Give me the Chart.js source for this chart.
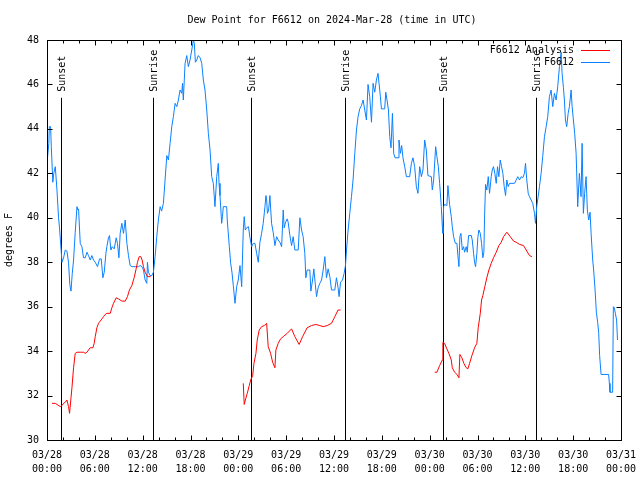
<!DOCTYPE html>
<html>
<head>
<meta charset="utf-8">
<script src="https://cdn.jsdelivr.net/npm/chart.js@4.4.1/dist/chart.umd.min.js"></script>
<style>
  html, body { margin: 0; padding: 0; background: #fff; }
  #wrap { width: 640px; height: 480px; }
</style>
</head>
<body>
<div id="wrap"><canvas id="chart" width="640" height="480"></canvas></div>
<script>
(function () {
  // hours since 03/28 00:00 UTC, dew point in degrees F
  var obsSeries = [
    [0.00,42.45],[0.23,43.35],[0.29,44.1],[0.45,44.1],[0.54,43.2],[0.73,41.6],[0.85,42.0],[1.04,42.3],[1.25,41.25],[1.45,40.0],
    [1.58,39.5],[1.88,38.0],[2.08,38.2],[2.29,38.55],[2.50,38.5],[2.70,38.0],[2.86,37.0],[3.01,36.7],[3.17,37.5],[3.33,38.1],
    [3.54,39.35],[3.76,40.5],[3.88,40.35],[3.96,40.4],[4.17,38.85],[4.38,38.7],[4.58,38.2],[4.80,38.2],[5.01,38.45],[5.21,38.3],
    [5.42,38.1],[5.63,38.3],[5.84,38.1],[6.05,38.0],[6.34,37.8],[6.59,38.15],[6.80,38.15],[7.01,37.3],[7.18,37.55],[7.39,38.4],
    [7.51,38.7],[7.71,39.1],[7.84,39.2],[8.01,38.55],[8.18,38.7],[8.43,38.6],[8.68,39.1],[8.84,38.85],[9.02,38.2],[9.18,39.3],
    [9.39,39.75],[9.59,39.3],[9.81,39.9],[10.02,38.85],[10.22,38.3],[10.43,37.85],[10.68,37.8],[11.06,37.8],[11.47,37.8],[11.68,37.85],
    [11.90,37.8],[12.10,37.65],[12.31,37.2],[12.52,37.05],[12.60,38.0],[12.72,37.55],[12.94,37.4],[13.15,37.4],[13.35,37.55],[13.56,38.25],
    [13.77,39.15],[13.97,39.9],[14.19,40.5],[14.38,40.3],[14.60,40.65],[14.81,41.7],[15.03,42.8],[15.23,42.6],[15.44,43.35],[15.65,44.1],
    [15.85,44.55],[16.07,45.15],[16.28,45.0],[16.48,45.3],[16.69,45.75],[16.90,45.6],[17.00,46.05],[17.10,45.3],[17.32,46.95],[17.53,47.3],
    [17.73,46.8],[17.94,47.1],[18.16,47.55],[18.36,48.0],[18.48,47.85],[18.61,47.0],[18.78,47.1],[18.98,47.3],[19.20,47.2],[19.41,46.95],
    [19.61,46.2],[19.82,45.75],[20.04,44.85],[20.24,43.8],[20.45,43.05],[20.66,41.85],[20.86,41.55],[21.07,40.5],[21.29,41.85],[21.49,42.45],
    [21.58,41.55],[21.70,41.0],[21.91,39.75],[22.01,40.05],[22.11,40.5],[22.54,40.5],[22.61,39.9],[22.87,38.7],[23.04,37.95],[23.20,37.55],
    [23.37,36.95],[23.58,36.15],[23.79,36.9],[23.99,37.2],[24.21,37.85],[24.42,36.9],[24.62,39.45],[24.74,40.05],[24.87,39.45],[25.04,39.55],
    [25.27,39.6],[25.46,39.1],[25.67,38.7],[25.87,38.85],[26.08,38.85],[26.30,38.4],[26.50,38.0],[26.71,38.9],[26.92,39.3],[27.12,39.75],
    [27.34,40.5],[27.46,41.0],[27.55,40.8],[27.65,40.2],[27.80,40.35],[27.96,41.0],[28.17,39.75],[28.37,39.35],[28.59,38.75],[28.80,39.15],
    [29.00,39.0],[29.21,38.9],[29.43,38.7],[29.63,40.35],[29.75,39.55],[29.93,39.8],[30.13,39.95],[30.25,39.8],[30.47,39.2],[30.68,38.75],
    [30.88,39.15],[31.09,38.55],[31.51,38.55],[31.72,40.0],[31.93,39.45],[32.13,39.15],[32.34,38.4],[32.47,37.3],[32.63,37.65],[32.97,37.65],
    [33.10,36.7],[33.31,37.2],[33.47,37.7],[33.63,37.1],[33.81,36.45],[34.01,36.85],[34.22,37.05],[34.44,37.2],[34.64,37.65],[34.85,38.25],
    [35.06,37.3],[35.26,37.7],[35.48,37.35],[35.69,36.75],[36.10,36.75],[36.31,37.3],[36.51,36.85],[36.64,36.45],[36.82,37.1],[37.07,37.2],
    [37.27,37.5],[37.44,37.85],[37.57,38.55],[37.77,39.45],[37.98,40.2],[38.19,40.95],[38.39,41.7],[38.61,42.9],[38.82,43.95],[39.02,44.55],
    [39.23,44.9],[39.44,45.05],[39.65,45.3],[39.86,44.85],[40.07,44.4],[40.27,46.0],[40.48,45.45],[40.70,44.3],[40.90,46.05],[41.11,45.65],
    [41.32,46.2],[41.52,46.5],[41.65,46.05],[41.82,45.45],[41.95,44.9],[42.36,44.9],[42.49,45.65],[42.65,45.3],[42.83,44.85],[42.99,43.65],
    [43.15,43.15],[43.33,44.7],[43.49,42.9],[43.65,42.7],[44.03,42.7],[44.15,43.5],[44.33,42.9],[44.49,43.25],[44.65,42.7],[44.87,42.3],
    [45.08,41.85],[45.49,41.85],[45.71,42.45],[45.91,42.7],[46.12,42.3],[46.33,41.4],[46.53,41.1],[46.75,42.3],[46.96,41.85],[47.16,42.15],
    [47.37,43.5],[47.58,43.05],[47.78,41.9],[48.21,41.85],[48.33,41.25],[48.50,41.7],[48.75,43.2],[48.91,42.75],[49.09,42.3],[49.25,41.55],
    [49.46,40.5],[49.59,39.6],[49.66,39.3],[49.75,40.5],[49.87,40.6],[50.16,40.55],[50.29,41.45],[50.50,40.6],[50.71,40.05],[50.84,39.6],
    [51.00,39.15],[51.22,38.85],[51.42,38.85],[51.54,38.3],[51.67,37.8],[51.79,39.15],[51.92,39.3],[52.09,38.55],[52.26,38.7],[52.38,38.45],
    [52.59,38.7],[52.72,38.45],[52.88,39.2],[53.22,39.2],[53.34,39.0],[53.51,38.4],[53.63,38.0],[53.76,37.8],[53.92,38.4],[54.04,39.1],
    [54.17,39.45],[54.35,39.3],[54.51,38.85],[54.67,38.2],[54.80,38.45],[54.88,39.95],[55.01,41.5],[55.17,41.25],[55.35,41.85],[55.51,41.1],
    [55.72,41.85],[55.85,42.15],[56.01,42.3],[56.17,42.0],[56.35,41.55],[56.51,42.3],[56.68,41.85],[56.85,42.6],[57.02,42.3],[57.18,42.0],
    [57.35,41.4],[57.52,41.0],[57.68,41.7],[57.85,41.4],[58.02,41.55],[58.64,41.55],[58.85,41.7],[59.05,41.85],[59.27,41.7],[59.48,41.85],
    [59.68,41.8],[59.89,42.0],[60.02,42.45],[60.18,41.7],[60.36,41.1],[60.52,40.95],[60.73,40.8],[60.93,40.65],[61.15,40.2],[61.27,39.75],
    [61.43,40.5],[61.61,40.95],[61.77,41.4],[61.98,42.0],[62.18,42.75],[62.40,43.65],[62.61,44.1],[62.81,44.55],[63.02,45.45],[63.23,45.75],
    [63.44,45.0],[63.65,45.6],[63.86,45.3],[64.06,45.9],[64.28,46.8],[64.49,47.45],[64.61,46.5],[64.78,45.85],[64.90,45.3],[65.03,44.4],
    [65.19,44.1],[65.37,44.7],[65.53,45.0],[65.74,45.75],[65.87,45.0],[66.03,44.4],[66.19,43.8],[66.37,42.9],[66.57,40.5],[66.78,42.0],
    [66.99,40.95],[67.12,43.35],[67.28,40.2],[67.44,41.1],[67.62,41.85],[67.78,40.35],[67.95,39.9],[68.12,40.25],[68.25,39.3],[68.45,38.1],
    [68.57,37.65],[68.75,36.75],[68.91,35.75],[69.07,35.3],[69.20,34.85],[69.32,33.8],[69.50,32.95],[70.45,32.95],[70.54,32.55],[70.62,32.15],
    [70.95,32.15],[71.04,36.0],[71.16,35.95],[71.29,35.7],[71.45,35.4],[71.56,34.5]
  ];

  // analysis series, null = gap
  var analysisSeries = [
    [0.63,31.65],[1.04,31.65],[1.25,31.6],[1.67,31.5],[1.88,31.55],[2.08,31.65],[2.29,31.7],[2.50,31.8],[2.70,31.5],[2.83,31.2],
    [3.01,31.9],[3.13,32.35],[3.33,33.25],[3.54,33.9],[3.79,33.95],[4.17,33.95],[4.58,33.95],[4.80,33.9],[5.01,33.95],[5.21,34.05],
    [5.42,34.15],[5.76,34.15],[5.92,34.35],[6.05,34.65],[6.26,35.05],[6.46,35.25],[6.67,35.35],[6.89,35.45],[7.09,35.55],[7.30,35.65],
    [7.51,35.7],[7.93,35.7],[8.14,35.95],[8.34,36.15],[8.68,36.4],[8.97,36.35],[9.39,36.25],[9.81,36.25],[10.09,36.45],[10.34,36.75],
    [10.64,36.95],[10.93,37.3],[11.18,37.7],[11.35,38.0],[11.56,38.25],[11.77,38.25],[11.93,38.1],[12.10,37.8],[12.31,37.55],[12.60,37.35],
    [13.00,37.35],
    [18.0,null],
    [24.62,32.55],[24.74,31.6],[24.92,31.85],[25.12,32.1],[25.37,32.45],[25.55,32.7],[25.80,32.9],[25.96,33.45],[26.21,33.9],[26.37,34.5],
    [26.62,34.95],[26.92,35.1],[27.25,35.15],[27.55,35.25],[27.75,34.2],[28.05,33.9],[28.30,33.5],[28.59,33.25],[28.71,34.05],[29.00,34.35],
    [29.30,34.55],[29.63,34.65],[30.13,34.8],[30.68,35.0],[31.09,34.65],[31.63,34.3],[32.06,34.65],[32.63,35.05],[33.18,35.15],[33.72,35.2],
    [34.22,35.15],[34.64,35.1],[35.14,35.15],[35.69,35.25],[36.10,35.55],[36.51,35.85],[36.82,35.85],
    [42.0,null],
    [48.63,33.05],[48.91,33.05],[49.25,33.35],[49.59,33.6],[49.66,34.4],[49.87,34.35],[50.16,34.1],[50.41,33.9],[50.71,33.6],[50.84,33.25],
    [51.13,33.05],[51.42,32.95],[51.67,32.8],[51.79,33.85],[52.04,33.7],[52.29,33.45],[52.59,33.25],[52.79,33.2],[53.01,33.45],[53.30,33.8],
    [53.63,34.15],[53.92,34.35],[54.09,35.05],[54.35,35.7],[54.51,36.3],[54.67,36.5],[54.92,36.9],[55.17,37.3],[55.43,37.65],[55.72,37.95],
    [56.01,38.2],[56.35,38.45],[56.68,38.75],[56.98,38.9],[57.27,39.15],[57.68,39.35],[58.11,39.15],[58.52,38.95],[58.85,38.9],[59.27,38.8],
    [59.77,38.75],[60.11,38.55],[60.52,38.3],[60.81,38.25]
  ];

  var sunHours = [1.75, 13.35, 25.62, 37.39, 49.66, 61.31];
  var sunLabels = ['Sunset', 'Sunrise', 'Sunset', 'Sunrise', 'Sunset', 'Sunrise'];
  var sunLineTop = 45.4;

  var xTickLabels = [
    ['03/28', '00:00'], ['03/28', '06:00'], ['03/28', '12:00'], ['03/28', '18:00'],
    ['03/29', '00:00'], ['03/29', '06:00'], ['03/29', '12:00'], ['03/29', '18:00'],
    ['03/30', '00:00'], ['03/30', '06:00'], ['03/30', '12:00'], ['03/30', '18:00'],
    ['03/31', '00:00']
  ];

  var seriesNames = ['F6612 Analysis', 'F6612'];
  var seriesColors = ['#ff0000', '#0a80ff'];
  var titleText = 'Dew Point for F6612 on 2024-Mar-28 (time in UTC)';
  var yTitle = 'degrees F';

  var FONT = '10px "DejaVu Sans Mono", monospace';

  function toXY(arr) {
    return arr.map(function (p) {
      return { x: p[0], y: p[1] };
    });
  }

  var decor = {
    id: 'gnuplotDecor',
    beforeDatasetsDraw: function (chart) {
      var ctx = chart.ctx;
      var xs = chart.scales.x;
      var ys = chart.scales.y;
      ctx.save();
      ctx.strokeStyle = '#000';
      ctx.fillStyle = '#000';
      ctx.lineWidth = 1;
      ctx.font = FONT;
      sunHours.forEach(function (h, i) {
        var px = Math.round(xs.getPixelForValue(h)) + 0.5;
        var top = ys.getPixelForValue(sunLineTop);
        ctx.beginPath();
        ctx.moveTo(px, top);
        ctx.lineTo(px, ys.getPixelForValue(30));
        ctx.stroke();
        ctx.save();
        ctx.translate(px + 1, top - 6);
        ctx.rotate(-Math.PI / 2);
        ctx.textAlign = 'left';
        ctx.textBaseline = 'middle';
        ctx.fillText(sunLabels[i], 0, 0);
        ctx.restore();
      });
      ctx.restore();
    },
    afterDatasetsDraw: function (chart) {
      var ctx = chart.ctx;
      var a = chart.chartArea;
      var xs = chart.scales.x;
      var ys = chart.scales.y;
      ctx.save();
      ctx.strokeStyle = '#000';
      ctx.lineWidth = 1;
      var L = Math.round(a.left) + 0.5, R = Math.round(a.right) + 0.5;
      var T = Math.round(a.top) + 0.5, B = Math.round(a.bottom) + 0.5;
      ctx.strokeRect(L, T, R - L, B - T);
      ctx.beginPath();
      for (var h = xs.min; h <= xs.max; h += 2) {
        var px = Math.round(xs.getPixelForValue(h)) + 0.5;
        var len = h % 6 === 0 ? 5 : 3;
        ctx.moveTo(px, B);
        ctx.lineTo(px, B - len);
        ctx.moveTo(px, T);
        ctx.lineTo(px, T + len);
      }
      for (var v = ys.min; v <= ys.max; v += 2) {
        var py = Math.round(ys.getPixelForValue(v)) + 0.5;
        ctx.moveTo(L, py);
        ctx.lineTo(L + 5, py);
        ctx.moveTo(R, py);
        ctx.lineTo(R - 5, py);
      }
      ctx.stroke();

      // title and y title
      ctx.fillStyle = '#000';
      ctx.font = FONT;
      ctx.textAlign = 'center';
      ctx.textBaseline = 'middle';
      ctx.fillText(titleText, 332, 20);
      ctx.save();
      ctx.translate(9, 240);
      ctx.rotate(-Math.PI / 2);
      ctx.fillText(yTitle, 0, 0);
      ctx.restore();

      // legend, top right inside plot
      ctx.textAlign = 'right';
      seriesNames.forEach(function (name, i) {
        var y = 50 + i * 12;
        ctx.fillStyle = '#000';
        ctx.fillText(name, 574, y);
        ctx.strokeStyle = seriesColors[i];
        ctx.beginPath();
        ctx.moveTo(581, Math.round(y) + 0.5);
        ctx.lineTo(610, Math.round(y) + 0.5);
        ctx.stroke();
      });
      ctx.restore();
    }
  };

  function init() {
    var canvas = document.getElementById('chart');
    new Chart(canvas, {
      type: 'scatter',
      data: {
        datasets: [
          {
            label: seriesNames[0],
            data: toXY(analysisSeries),
            borderColor: seriesColors[0],
            borderWidth: 1,
            showLine: true,
            spanGaps: false,
            pointRadius: 0,
            tension: 0,
          },
          {
            label: seriesNames[1],
            data: toXY(obsSeries),
            borderColor: seriesColors[1],
            borderWidth: 1,
            showLine: true,
            pointRadius: 0,
            tension: 0,
          },
        ],
      },
      options: {
        responsive: false,
        animation: false,
        events: [],
        layout: { padding: { left: 0, top: 40, right: 19, bottom: 0 } },
        plugins: {
          legend: { display: false },
          title: { display: false },
          tooltip: { enabled: false },
        },
        scales: {
          x: {
            type: 'linear',
            min: 0,
            max: 72,
            afterFit: function (s) { s.height = 40; s.paddingRight = 0; s.paddingLeft = 0; },
            afterBuildTicks: function (s) {
              s.ticks = xTickLabels.map(function (_, i) { return { value: i * 6 }; });
            },
            grid: { display: false, drawTicks: false },
            border: { display: false },
            ticks: {
              color: '#000',
              padding: 8,
              maxRotation: 0,
              autoSkip: false,
              font: { family: '"DejaVu Sans Mono", monospace', size: 10, lineHeight: 1.4 },
              callback: function (v) { return xTickLabels[Math.round(v / 6)]; },
            },
          },
          y: {
            min: 30,
            max: 48,
            afterFit: function (s) { s.width = 47; },
            grid: { display: false, drawTicks: false },
            border: { display: false },
            ticks: {
              stepSize: 2,
              color: '#000',
              padding: 8,
              font: { family: '"DejaVu Sans Mono", monospace', size: 10 },
            },
          },
        },
      },
      plugins: [decor],
    });
  }

  init();
})();
</script>
</body>
</html>
